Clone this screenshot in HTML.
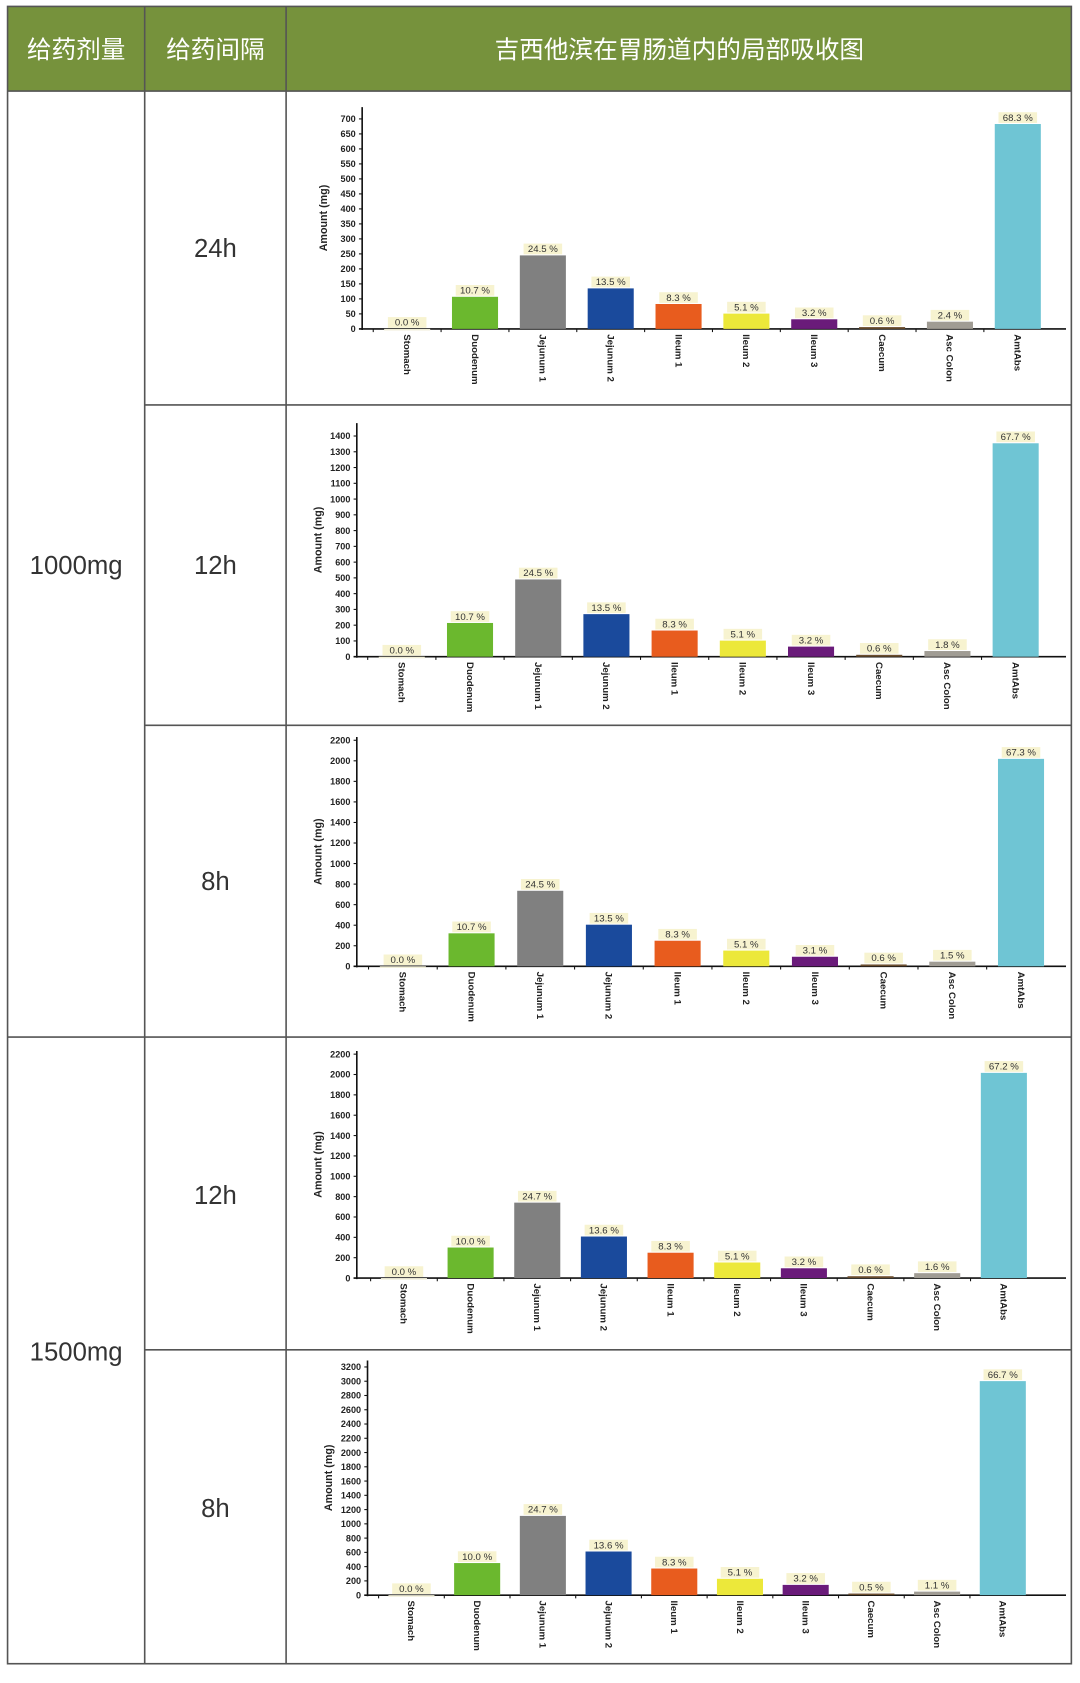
<!DOCTYPE html>
<html><head><meta charset="utf-8">
<style>
html,body{margin:0;padding:0;background:#fff;}
svg{display:block;}
</style></head>
<body>
<svg id="s" xmlns="http://www.w3.org/2000/svg" width="1080" height="1683" viewBox="0 0 1008 1571" font-family="Liberation Sans, Noto Sans CJK SC, sans-serif">
<rect x="0" y="0" width="1008" height="1571" fill="#fff"/>
<rect x="7" y="6" width="993" height="79" fill="#76923c"/>
<g fill="#fff" font-size="23" text-anchor="middle">
<text x="71" y="54">给药剂量</text>
<text x="201" y="54">给药间隔</text>
<text x="634" y="54">吉西他滨在胃肠道内的局部吸收图</text>
</g>
<g fill="#333" font-size="24" text-anchor="middle">
<text x="71" y="536">1000mg</text>
<text x="71" y="1270">1500mg</text>
<text x="201" y="240">24h</text>
<text x="201" y="536">12h</text>
<text x="201" y="831">8h</text>
<text x="201" y="1124">12h</text>
<text x="201" y="1416">8h</text>
</g>
<g stroke="#555" stroke-width="1.5" fill="none">
<rect x="7" y="6" width="993" height="1547"/>
<line x1="135" y1="6" x2="135" y2="1553"/>
<line x1="267" y1="6" x2="267" y2="1553"/>
<line x1="7" y1="85" x2="1000" y2="85"/>
<line x1="135" y1="378" x2="1000" y2="378"/>
<line x1="135" y1="677" x2="1000" y2="677"/>
<line x1="7" y1="968" x2="1000" y2="968"/>
<line x1="135" y1="1260" x2="1000" y2="1260"/>
</g>
<g id="charts"></g>
</svg>
<script>
var names=["Stomach","Duodenum","Jejunum 1","Jejunum 2","Ileum 1","Ileum 2","Ileum 3","Caecum","Asc Colon","AmtAbs"];
var cols=["#f0eed8","#6bb82e","#808080","#1a4a9c","#e85c1e","#ece83a","#6a1b7a","#6b4e2e","#a09c94","#6fc5d4"];
var charts=[
{ax:338,top:100,zero:307,max:700,maxy:111,step:50,c0:380,c1:950,pct:["0.0","10.7","24.5","13.5","8.3","5.1","3.2","0.6","2.4","68.3"],tot:1000},
{ax:333,top:395,zero:613,max:1400,maxy:407,step:100,c0:375,c1:948,pct:["0.0","10.7","24.5","13.5","8.3","5.1","3.2","0.6","1.8","67.7"],tot:2000},
{ax:333,top:688,zero:902,max:2200,maxy:691,step:200,c0:376,c1:953,pct:["0.0","10.7","24.5","13.5","8.3","5.1","3.1","0.6","1.5","67.3"],tot:3000},
{ax:333,top:981,zero:1193,max:2200,maxy:984,step:200,c0:377,c1:937,pct:["0.0","10.0","24.7","13.6","8.3","5.1","3.2","0.6","1.6","67.2"],tot:3000},
{ax:343,top:1270,zero:1489,max:3200,maxy:1276,step:200,c0:384,c1:936,pct:["0.0","10.0","24.7","13.6","8.3","5.1","3.2","0.5","1.1","66.7"],tot:4500}
];
var h="";
charts.forEach(function(c){
 var sc=(c.zero-c.maxy)/c.max;
 h+='<line x1="'+c.ax+'" y1="'+c.top+'" x2="'+c.ax+'" y2="'+(c.zero+1)+'" stroke="#111" stroke-width="1.5"/>';
 h+='<line x1="'+(c.ax-3)+'" y1="'+c.zero+'" x2="995" y2="'+c.zero+'" stroke="#111" stroke-width="1.5"/>';
 for(var v=0;v<=c.max;v+=c.step){var y=c.zero-v*sc;
  h+='<line x1="'+(c.ax-3)+'" y1="'+y+'" x2="'+c.ax+'" y2="'+y+'" stroke="#111"/>';
  h+='<text x="'+(c.ax-6)+'" y="'+(y+3)+'" font-size="8.5" font-weight="bold" text-anchor="end" fill="#222">'+v+'</text>';}
 var ly=(c.top+c.zero)/2;
 h+='<text transform="translate('+(c.ax-33)+','+ly+') rotate(-90)" font-size="10" font-weight="bold" text-anchor="middle" fill="#222">Amount (mg)</text>';
 var stp=(c.c1-c.c0)/9;
 for(var i=0;i<10;i++){var cx=c.c0+i*stp;var val=parseFloat(c.pct[i])/100*c.tot;var bh=val*sc;var by=c.zero-bh;
  h+='<rect x="'+(cx-21.5)+'" y="'+by+'" width="43" height="'+Math.max(bh,1.5)+'" fill="'+cols[i]+'"/>';
  h+='<rect x="'+(cx-18)+'" y="'+(by-11)+'" width="36" height="10" fill="#f7f3d0"/>';
  h+='<text x="'+cx+'" y="'+(by-3)+'" font-size="9" text-anchor="middle" fill="#333">'+c.pct[i]+' %</text>';
  h+='<line x1="'+(cx-stp/2)+'" y1="'+c.zero+'" x2="'+(cx-stp/2)+'" y2="'+(c.zero+3)+'" stroke="#111"/>';
  h+='<text transform="translate('+(cx-3)+','+(c.zero+5)+') rotate(90)" font-size="9" font-weight="bold" fill="#222">'+names[i]+'</text>';}
});
document.getElementById("charts").innerHTML=h;
</script>
</body></html>
